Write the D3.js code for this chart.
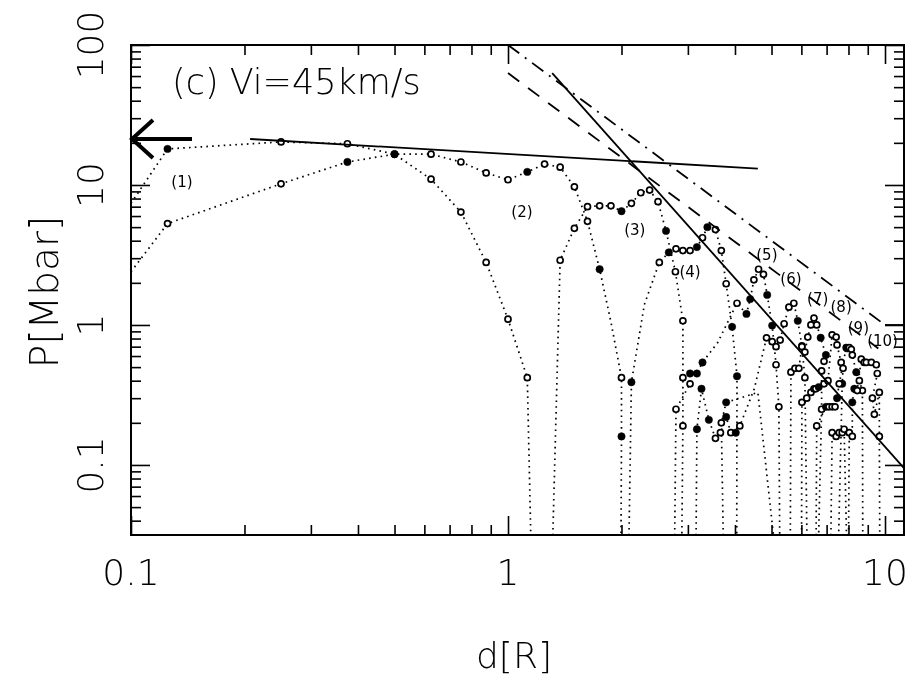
<!DOCTYPE html>
<html><head><meta charset="utf-8">
<script src="https://cdn.jsdelivr.net/npm/d3@7/dist/d3.min.js"></script>
<style>body{margin:0;background:#fff}svg{display:block}text{fill:#000}</style>
</head><body>
<svg id="chart" width="915" height="681"></svg>
<script>
// ---- data ----
const xDomain = [0.1, 11.23];
const yDomain = [0.0316, 100];
const xTickValues = [0.1, 1, 10];
const xTickLabels = ["0.1", "1", "10"];
const yTickValues = [0.1, 1, 10, 100];
const yTickLabels = ["0.1", "1", "10", "100"];
// profiles: [d, P, marker]  marker: 1 filled, 0 open, -1 none
const profile1 = [[0.1,7.4,-1],[0.125,18.1,1],[0.25,20.3,0],[0.375,19.7,0],[0.5,16.6,1],[0.625,11.0,0],[0.75,6.4,0],[0.875,2.8,0],[1.0,1.1,0],[1.125,0.42,0],[1.16,0.01,-1]];
const profile2 = [[0.1,2.4,-1],[0.125,5.3,0],[0.25,10.2,0],[0.375,14.6,1],[0.5,16.6,1],[0.625,16.6,0],[0.75,14.6,0],[0.875,12.2,0],[1.0,10.9,0],[1.125,12.4,1],[1.25,14.1,0],[1.375,13.4,0],[1.5,9.7,0],[1.625,5.5,0],[1.75,2.5,1],[1.875,1.05,-1],[2.0,0.42,0],[2.0,0.16,1],[1.99,0.01,-1]];
const profile3 = [[1.3,0.01,-1],[1.375,2.9,0],[1.5,4.9,0],[1.625,7.0,0],[1.75,7.1,0],[1.875,7.1,0],[2.0,6.5,1],[2.125,7.4,0],[2.25,8.8,0],[2.375,9.2,0],[2.5,7.6,0],[2.625,4.7,1],[2.78,2.4,0],[2.91,1.07,0],[2.91,0.42,0],[2.91,0.19,0],[2.88,0.01,-1]];
const profile4 = [[2.08,0.01,-1],[2.125,0.39,1],[2.3,1.4,-1],[2.52,2.8,0],[2.67,3.3,1],[2.79,3.5,0],[2.91,3.4,0],[3.04,3.4,0],[3.17,3.6,1],[3.28,4.2,0],[3.38,5.0,1],[3.55,4.8,0],[3.68,3.4,0],[3.79,1.97,0],[3.93,0.97,1],[4.05,0.43,1],[4.04,0.01,-1]];
const profile5 = [[2.756,0.01,-1],[2.79,0.25,0],[3.04,0.38,0],[3.04,0.45,1],[3.17,0.45,1],[3.28,0.54,1],[3.6,0.75,-1],[4.05,1.43,0],[4.29,1.2,1],[4.39,1.53,1],[4.49,2.1,0],[4.62,2.5,0],[4.76,2.3,0],[4.87,1.64,1],[5.02,0.99,1],[5.14,0.52,0],[5.23,0.26,0],[5.27,0.01,-1]];
const profile6 = [[3.144,0.01,-1],[3.17,0.18,1],[3.26,0.35,1],[3.41,0.21,1],[3.55,0.155,0],[3.66,0.17,0],[3.79,0.22,1],[3.90,0.17,0],[4.02,0.17,1],[4.12,0.19,0],[4.5,0.35,-1],[4.85,0.81,0],[5.02,0.76,0],[5.14,0.70,0],[5.27,0.78,0],[5.40,1.02,0],[5.56,1.34,0],[5.73,1.43,0],[5.87,1.07,1],[6.02,0.71,0],[6.13,0.42,0],[6.24,0.01,-1]];
const profile7 = [[3.75,0.01,-1],[3.68,0.2,0],[3.79,0.28,1],[4.6,0.33,-1],[5.3,0.01,-1],[5.6,0.01,-1],[5.63,0.46,0],[5.77,0.49,0],[5.91,0.49,0],[6.02,0.70,0],[6.13,0.64,0],[6.24,0.82,0],[6.36,1.0,0],[6.48,1.12,0],[6.59,1.0,0],[6.75,0.81,1],[6.97,0.61,1],[6.89,0.55,0],[6.79,0.47,0],[6.79,0.25,0],[6.6,0.01,-1]];
const profile8 = [[6.0,0.01,-1],[6.02,0.28,0],[6.20,0.30,0],[6.36,0.33,0],[6.48,0.35,0],[6.55,0.35,0],[6.67,0.36,1],[6.89,0.38,0],[7.06,0.40,0],[7.24,0.85,0],[7.42,0.82,0],[7.46,0.72,0],[7.65,0.54,0],[7.74,0.49,0],[7.70,0.38,1],[7.46,0.01,-1]];
const profile9 = [[6.55,0.01,-1],[6.59,0.19,0],[6.97,0.26,1],[7.10,0.26,0],[7.24,0.26,0],[7.37,0.26,0],[7.46,0.30,1],[7.56,0.38,0],[7.89,0.69,0],[7.93,0.68,1],[8.04,0.69,0],[8.14,0.67,0],[8.19,0.61,0],[8.39,0.46,1],[8.55,0.40,0],[8.71,0.34,0],[8.74,0.01,-1]];
const profile10 = [[7.15,0.01,-1],[7.24,0.17,0],[7.42,0.16,0],[7.56,0.17,0],[7.70,0.17,0],[7.79,0.18,0],[7.98,0.01,-1],[8.04,0.17,0],[8.19,0.16,0],[8.19,0.28,1],[8.29,0.35,1],[8.44,0.34,0],[8.65,0.57,0],[8.81,0.54,0],[8.92,0.54,0],[9.20,0.54,0],[9.48,0.52,0],[9.54,0.45,0],[9.26,0.30,0],[9.37,0.23,0],[9.66,0.33,0],[9.66,0.16,0],[9.70,0.01,-1]];
const profiles = [profile1, profile2, profile3, profile4, profile5, profile6, profile7, profile8, profile9, profile10];
const profileLabels = ["(1)","(2)","(3)","(4)","(5)","(6)","(7)","(8)","(9)","(10)"];
const labelD = [0.1365, 1.089, 2.17, 3.04, 4.86, 5.63, 6.63, 7.65, 8.5, 9.85];
const labelP = [10.5, 6.4, 4.77, 2.4, 3.16, 2.14, 1.53, 1.34, 0.95, 0.77];
// reference lines
const flatLine = [[0.207,21.3],[4.6,13.1]];
const steepLine = [[1.31,63],[11.23,0.095]];
const dashedLine = [[1.0,63],[9.6,0.68]];
const dashDotLine = [[1.0,100],[10.0,1.0],[11.23,1.0]];
const arrowP = 21.3;

// ---- drawing ----
const svg = d3.select("#chart");
const L = 131, R = 904, T = 45, B = 535;
const x = d3.scaleLog().domain(xDomain).range([L, R]);
const y = d3.scaleLog().domain(yDomain).range([B, T]);
const FONT = "'DejaVu Sans', sans-serif";
const FW = 200;

svg.append("defs").append("clipPath").attr("id","clip")
  .append("rect").attr("x",L).attr("y",T).attr("width",R-L).attr("height",B-T);

const minorX = [];
[0.1,1].forEach(dec => { for (let k=2;k<=9;k++) minorX.push(dec*k); });
const minorY = [];
[0.01,0.1,1,10].forEach(dec => { for (let k=2;k<=9;k++) { const v=dec*k; if (v>=yDomain[0] && v<=100) minorY.push(v);} });

function tickAxis(gen, vals, size, tr) {
  const g = svg.append("g").attr("transform", tr)
    .call(gen.tickValues(vals).tickSize(size).tickSizeOuter(0).tickFormat(""));
  g.select(".domain").remove();
  g.selectAll("line").attr("stroke","#000").attr("stroke-width",1.6);
  return g;
}
tickAxis(d3.axisBottom(x), xTickValues, -19, `translate(0,${B})`);
tickAxis(d3.axisBottom(x), minorX, -10, `translate(0,${B})`);
tickAxis(d3.axisTop(x), xTickValues, -19, `translate(0,${T})`);
tickAxis(d3.axisTop(x), minorX, -10, `translate(0,${T})`);
tickAxis(d3.axisLeft(y), yTickValues, -19, `translate(${L},0)`);
tickAxis(d3.axisLeft(y), minorY, -10, `translate(${L},0)`);
tickAxis(d3.axisRight(y), yTickValues, -19, `translate(${R},0)`);
tickAxis(d3.axisRight(y), minorY, -10, `translate(${R},0)`);

svg.append("rect").attr("x",L).attr("y",T).attr("width",R-L).attr("height",B-T)
  .attr("fill","none").attr("stroke","#000").attr("stroke-width",2);

const txt = svg.append("g").attr("opacity",0.999);
// tick labels
txt.append("g").selectAll("text").data(xTickValues).join("text")
  .attr("x", d => x(d)).attr("y", 585).attr("text-anchor","middle")
  .attr("font-family",FONT).attr("font-weight",FW).attr("font-size",36).text((d,i)=>xTickLabels[i]);
txt.append("g").selectAll("text").data(yTickValues).join("text")
  .attr("transform", d => `translate(103,${y(d)}) rotate(-90)`).attr("text-anchor","middle")
  .attr("font-family",FONT).attr("font-weight",FW).attr("font-size",36).text((d,i)=>yTickLabels[i]);

txt.append("text").attr("x",514).attr("y",668).attr("text-anchor","middle")
  .attr("font-family",FONT).attr("font-weight",FW).attr("font-size",36).text("d[R]");
txt.append("text").attr("transform","translate(58,292) rotate(-90)").attr("text-anchor","middle")
  .attr("font-family",FONT).attr("font-weight",FW).attr("font-size",39).text("P[Mbar]");
txt.append("text").attr("x",172).attr("y",94).attr("font-family",FONT).attr("font-weight",FW).attr("font-size",35)
  .text("(c) Vi=45km/s");

const plot = svg.append("g").attr("clip-path","url(#clip)");
const line = d3.line().x(d=>x(d[0])).y(d=>y(Math.max(d[1],1e-3)));

profiles.forEach(p => {
  plot.append("path").attr("d", line(p)).attr("fill","none").attr("stroke","#000")
    .attr("stroke-width",1.7).attr("stroke-dasharray","1.6,4.2");
});
profiles.forEach(p => {
  plot.selectAll(null).data(p.filter(d=>d[2]>=0)).join("circle")
    .attr("cx", d=>x(d[0])).attr("cy", d=>y(d[1]))
    .attr("r", d=> d[2]===1 ? 3.7 : 3.0)
    .attr("fill", d=> d[2]===1 ? "#000" : "#fff")
    .attr("stroke","#000").attr("stroke-width", d=> d[2]===1 ? 0.5 : 1.7);
});

plot.append("path").attr("d", line(flatLine)).attr("fill","none").attr("stroke","#000").attr("stroke-width",1.8);
plot.append("path").attr("d", line(steepLine)).attr("fill","none").attr("stroke","#000").attr("stroke-width",1.8);
plot.append("path").attr("d", line(dashedLine)).attr("fill","none").attr("stroke","#000").attr("stroke-width",1.8).attr("stroke-dasharray","14,11");
plot.append("path").attr("d", line(dashDotLine.slice(0,2))).attr("fill","none").attr("stroke","#000").attr("stroke-width",1.8).attr("stroke-dasharray","14,7,2,7");
plot.append("path").attr("d", line(dashDotLine.slice(1))).attr("fill","none").attr("stroke","#000").attr("stroke-width",1.8);

// arrow
const ay = y(arrowP);
svg.append("path").attr("d", `M${L+1},${ay}H${L+61}`).attr("stroke","#000").attr("stroke-width",4);
svg.append("path").attr("d", `M${L+22},${ay-19}L${L+1},${ay}L${L+22},${ay+19}`).attr("fill","none").attr("stroke","#000").attr("stroke-width",4);

// profile labels
txt.append("g").selectAll("text").data(profileLabels).join("text")
  .attr("x",(d,i)=>x(labelD[i])).attr("y",(d,i)=>y(labelP[i])).attr("text-anchor","middle")
  .attr("dominant-baseline","central")
  .attr("font-family",FONT).attr("font-weight",400).attr("font-size",15).text(d=>d);
</script>
</body></html>
